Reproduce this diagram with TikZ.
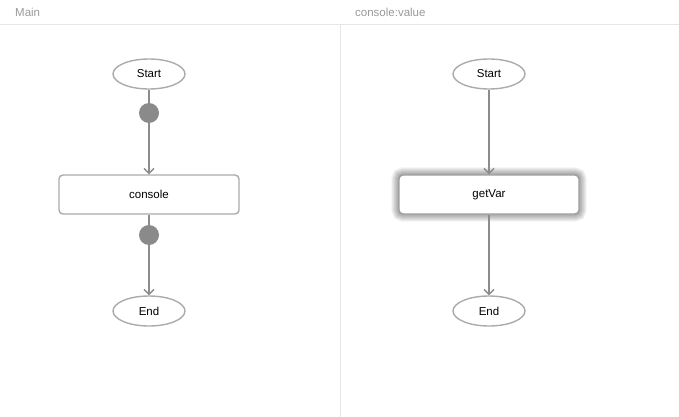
\documentclass[tikz,border=0pt]{standalone}
\usepackage{fontspec}
\setmainfont{Liberation Sans}
\usetikzlibrary{arrows.meta,shapes.geometric,backgrounds}
\definecolor{edgegray}{HTML}{8C8C8C}
\definecolor{shapegray}{HTML}{ABABAB}
\definecolor{dotgray}{HTML}{8A8A8A}
\definecolor{headgray}{HTML}{9A9A9A}
\definecolor{linegray}{HTML}{E6E6E6}
\begin{document}
\begin{tikzpicture}[x=1pt,y=-1pt,
  terminal/.style={draw=shapegray,line width=1.4pt,ellipse,minimum width=72pt,minimum height=30pt,inner sep=0pt,font=\fontsize{11.5}{13}\selectfont},
  taskbox/.style={draw=shapegray,line width=1.4pt,rounded corners=4pt,minimum width=180pt,minimum height=39pt,inner sep=0pt,font=\fontsize{11.5}{13}\selectfont,fill=white},
  glowbox/.style={taskbox,draw=edgegray!85},
  joint/.style={circle,fill=dotgray,minimum size=20pt,inner sep=0pt},
  flow/.style={draw=edgegray,line width=1.4pt,-{Straight Barb[length=5pt,width=10pt,line width=1.4pt]}},
  plain/.style={draw=edgegray,line width=1.4pt},
  header/.style={anchor=west,text=headgray,font=\fontsize{11.5}{13}\selectfont,inner sep=0pt}
]
\useasboundingbox (0,0) rectangle (679,417);
\begin{scope}[on background layer]
\fill[white] (0,0) rectangle (679,417);
\end{scope}
\draw[linegray,line width=0.8pt] (0,24) -- (679,24);
\draw[linegray,line width=0.8pt] (340,24) -- (340,417);
\node[header] (hmain) at (15,12) {Main};
\node[header] (hval) at (355,12) {console:value};

% left
\node[terminal] (s1) at (149,74) {Start};
\node[joint] (d1) at (149,113) {};
\node[taskbox] (c1) at (149,194.5) {console};
\node[joint] (d2) at (149,235) {};
\node[terminal] (e1) at (149,311) {End};
\draw[plain] (s1) -- (d1);
\draw[flow] (d1) -- (c1);
\draw[plain] (c1) -- (d2);
\draw[flow] (d2) -- (e1);

% right
\node[terminal] (s2) at (489,74) {Start};
\node[glowbox] (g2) at (489,194.5) {getVar};
\node[terminal] (e2) at (489,311) {End};
\draw[flow] (s2) -- (g2);
\draw[flow] (g2) -- (e2);
\begin{scope}[on background layer]
\foreach \w in {2,4,...,14}
  \draw[black,opacity=0.05,line width=\w pt,rounded corners=5pt] (g2.south west) rectangle (g2.north east);
\end{scope}
\end{tikzpicture}
\end{document}
